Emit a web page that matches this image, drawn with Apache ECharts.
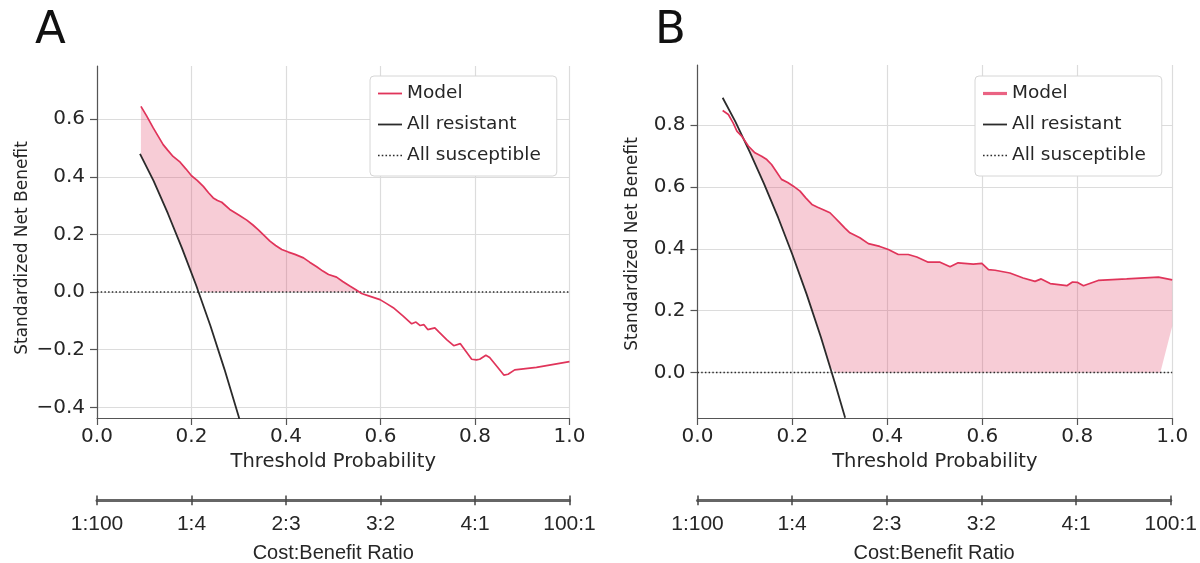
<!DOCTYPE html>
<html><head><meta charset="utf-8">
<script src="https://cdn.jsdelivr.net/npm/echarts@6/dist/echarts.min.js"></script>
<style>html,body{margin:0;padding:0;background:#fff}#c{width:1200px;height:563px}</style>
</head><body><div id="c"></div>
<script>
const panelTitles = ['A', 'B'];
const seriesNames = ['Model', 'All resistant', 'All susceptible'];
const xTitle = 'Threshold Probability';
const yTitle = 'Standardized Net Benefit';
const costTitle = 'Cost:Benefit Ratio';
const costLabels = ['1:100', '1:4', '2:3', '3:2', '4:1', '100:1'];
const costTickPositions = [0, 0.2, 0.4, 0.6, 0.8, 1.0];
const yTicksA = [-0.4, -0.2, 0, 0.2, 0.4, 0.6];
const yTicksB = [0, 0.2, 0.4, 0.6, 0.8];

const modelA = [[0.093,0.645],[0.105,0.612],[0.119,0.570],[0.130,0.540],[0.140,0.512],[0.150,0.492],[0.161,0.471],[0.176,0.451],[0.188,0.428],[0.200,0.404],[0.212,0.388],[0.225,0.367],[0.236,0.345],[0.246,0.327],[0.255,0.318],[0.264,0.312],[0.281,0.287],[0.300,0.268],[0.317,0.250],[0.330,0.233],[0.341,0.217],[0.353,0.198],[0.366,0.177],[0.378,0.162],[0.391,0.148],[0.405,0.139],[0.419,0.131],[0.437,0.119],[0.450,0.104],[0.465,0.088],[0.478,0.073],[0.490,0.061],[0.507,0.052],[0.520,0.037],[0.535,0.021],[0.548,0.008],[0.560,-0.005],[0.575,-0.013],[0.599,-0.026],[0.613,-0.040],[0.627,-0.054],[0.648,-0.083],[0.666,-0.110],[0.675,-0.104],[0.684,-0.116],[0.692,-0.113],[0.700,-0.130],[0.715,-0.124],[0.724,-0.139],[0.740,-0.165],[0.755,-0.186],[0.769,-0.179],[0.781,-0.206],[0.793,-0.233],[0.803,-0.235],[0.810,-0.233],[0.823,-0.219],[0.831,-0.227],[0.847,-0.259],[0.861,-0.288],[0.870,-0.285],[0.884,-0.270],[0.930,-0.261],[1.0,-0.241]];
const resistantA = [[0.091,0.480],[0.12,0.385],[0.15,0.273],[0.18,0.152],[0.21,0.023],[0.24,-0.117],[0.27,-0.269],[0.30,-0.433],[0.302,-0.445]];
const susceptibleA = [[0,0],[1,0]];

const modelB = [[0.053,0.848],[0.065,0.835],[0.075,0.808],[0.083,0.781],[0.093,0.765],[0.107,0.733],[0.121,0.711],[0.135,0.700],[0.146,0.689],[0.156,0.673],[0.167,0.648],[0.177,0.625],[0.190,0.615],[0.202,0.603],[0.216,0.587],[0.228,0.565],[0.241,0.544],[0.253,0.535],[0.265,0.527],[0.279,0.517],[0.290,0.500],[0.300,0.484],[0.310,0.468],[0.321,0.452],[0.342,0.436],[0.360,0.417],[0.384,0.408],[0.402,0.398],[0.423,0.382],[0.444,0.382],[0.462,0.374],[0.486,0.357],[0.511,0.357],[0.532,0.342],[0.549,0.355],[0.581,0.351],[0.599,0.353],[0.613,0.333],[0.627,0.331],[0.658,0.322],[0.686,0.306],[0.711,0.295],[0.724,0.303],[0.743,0.288],[0.778,0.281],[0.790,0.293],[0.800,0.292],[0.813,0.281],[0.844,0.298],[0.904,0.303],[0.971,0.309],[1.0,0.300]];
const resistantB = [[0.053,0.889],[0.08,0.811],[0.11,0.714],[0.14,0.611],[0.17,0.501],[0.20,0.381],[0.23,0.253],[0.26,0.114],[0.29,-0.036],[0.311,-0.146]];
const susceptibleB = [[0,0],[1,0]];
const fillEdgeB = [[0.975,0],[1.0,0.15]];

const RED = '#e0345a';
const DARK = '#2b2b2b';
const FONT = 'DejaVu Sans';
const TXT = '#262626';

function interp(arr, x) {
  if (!arr || !arr.length) return null;
  if (x < arr[0][0] - 1e-9 || x > arr[arr.length - 1][0] + 1e-9) return null;
  for (let i = 1; i < arr.length; i++) {
    if (x <= arr[i][0] + 1e-12) {
      const x0 = arr[i-1][0], y0 = arr[i-1][1], x1 = arr[i][0], y1 = arr[i][1];
      return x1 === x0 ? y1 : y0 + (y1 - y0) * (x - x0) / (x1 - x0);
    }
  }
  return arr[arr.length - 1][1];
}
function lowerAt(x, lowers) {
  let l = -Infinity;
  lowers.forEach(a => { const v = interp(a, x); if (v !== null && v > l) l = v; });
  return l;
}
function fillSeries(model, lowers, idx) {
  return {
    type: 'custom', xAxisIndex: idx, yAxisIndex: idx, clip: true, silent: true, z: 1,
    data: [[0, 0]],
    renderItem: function (params, api) {
      const m0 = model[0][0], m1 = model[model.length - 1][0];
      let xs = model.map(p => p[0]);
      lowers.forEach(a => a.forEach(p => { if (p[0] >= m0 && p[0] <= m1) xs.push(p[0]); }));
      xs = Array.from(new Set(xs)).sort((a, b) => a - b);
      const pts = xs.map(x => ({ x: x, u: interp(model, x), l: lowerAt(x, lowers) }));
      const out = [];
      for (let i = 0; i < pts.length; i++) {
        out.push(pts[i]);
        if (i < pts.length - 1) {
          const f1 = pts[i].u - pts[i].l, f2 = pts[i+1].u - pts[i+1].l;
          if (f1 * f2 < 0) {
            const xc = pts[i].x + (pts[i+1].x - pts[i].x) * f1 / (f1 - f2);
            out.push({ x: xc, u: interp(model, xc), l: lowerAt(xc, lowers) });
          }
        }
      }
      const top = out.map(p => api.coord([p.x, Math.max(p.u, p.l)]));
      const bot = out.map(p => api.coord([p.x, p.l])).reverse();
      return { type: 'polygon', shape: { points: top.concat(bot) }, style: { fill: 'rgba(224,52,90,0.25)', stroke: null } };
    }
  };
}
function yFmt(v) {
  if (Math.abs(v * 5 - Math.round(v * 5)) > 1e-6) return '';
  return v.toFixed(1).replace('-', '\u2212');
}
function costFmt(v) {
  const i = costTickPositions.findIndex(p => Math.abs(p - v) < 1e-6);
  return i >= 0 ? costLabels[i] : '';
}

const grids = [
  { left: 97, top: 66, width: 472.5, height: 352 },
  { left: 697.5, top: 65, width: 474.7, height: 353 },
  { left: 97, top: 500, width: 472.5, height: 1 },
  { left: 697.5, top: 500, width: 474.7, height: 1 }
];
function mainX(g) {
  return {
    gridIndex: g, type: 'value', min: 0, max: 1, interval: 0.2,
    axisLine: { show: true, onZero: false, lineStyle: { color: '#555', width: 1.2 } },
    axisTick: { show: true, length: 7, lineStyle: { color: '#555', width: 1.2 } },
    axisLabel: { formatter: v => v.toFixed(1), fontSize: 20, fontFamily: FONT, color: TXT, margin: 9 },
    splitLine: { show: true, lineStyle: { color: '#dcdcdc', width: 1.2 } },
    name: xTitle, nameLocation: 'middle', nameGap: 32,
    nameTextStyle: { fontSize: 19.5, fontFamily: FONT, color: TXT }
  };
}
function costX(g) {
  return {
    gridIndex: g, type: 'value', min: 0, max: 1, interval: 0.2, position: 'bottom',
    axisLine: { show: true, onZero: false, lineStyle: { color: '#666', width: 3 } },
    axisTick: { show: true, length: 5, lineStyle: { color: '#444', width: 1.5 } },
    axisLabel: { formatter: costFmt, fontSize: 21, fontFamily: 'Liberation Sans', color: TXT, margin: 13 },
    splitLine: { show: false },
    name: costTitle, nameLocation: 'middle', nameGap: 43,
    nameTextStyle: { fontSize: 20, fontFamily: 'Liberation Sans', color: TXT }
  };
}
function costXTop(g) {
  return {
    gridIndex: g, type: 'value', min: 0, max: 1, interval: 0.2, position: 'top',
    axisLine: { show: false, onZero: false },
    axisTick: { show: true, length: 4.5, lineStyle: { color: '#444', width: 1.5 } },
    axisLabel: { show: false }, splitLine: { show: false }
  };
}
function mainY(g, min, max, ticks) {
  return {
    gridIndex: g, type: 'value', min: min, max: max,
    axisLine: { show: true, onZero: false, lineStyle: { color: '#555', width: 1.2 } },
    axisTick: { show: true, length: 7, customValues: ticks, lineStyle: { color: '#555', width: 1.2 } },
    axisLabel: { customValues: ticks, formatter: yFmt, fontSize: 20, fontFamily: FONT, color: TXT, margin: 12 },
    splitLine: { show: true, lineStyle: { color: '#dcdcdc', width: 1.2 } }
  };
}
function lineSeries(name, data, idx, color, width, type) {
  return {
    name: name, type: 'line', xAxisIndex: idx, yAxisIndex: idx, data: data,
    symbol: 'none', showSymbol: false, z: 3, clip: true,
    lineStyle: { color: color, width: width, type: type || 'solid' },
    itemStyle: { color: color }
  };
}
const ICON_SOLID = 'path://M0,0h24v1.8h-24z';
const ICON_THICK = 'path://M0,0h24v3.2h-24z';
const ICON_DOT = 'path://M0,0h1.6v1.6h-1.6z M3.73,0h1.6v1.6h-1.6z M7.47,0h1.6v1.6h-1.6z M11.2,0h1.6v1.6h-1.6z M14.93,0h1.6v1.6h-1.6z M18.67,0h1.6v1.6h-1.6z M22.4,0h1.6v1.6h-1.6z';
const legendCommon = {
  orient: 'vertical', symbolKeepAspect: true,
  backgroundColor: '#fff', borderColor: '#d6d6d6', borderWidth: 1, borderRadius: 4,
  padding: [8, 16, 11, 8], itemGap: 12, itemWidth: 24, itemHeight: 14,
  textStyle: { fontSize: 18.5, fontFamily: FONT, color: TXT },
  selectedMode: false
};

const option = {
  animation: false,
  backgroundColor: '#fff',
  grid: grids,
  xAxis: [mainX(0), mainX(1), costX(2), costX(3), costXTop(2), costXTop(3)],
  yAxis: [
    mainY(0, -0.437, 0.785, yTicksA),
    mainY(1, -0.147, 0.995, yTicksB),
    { gridIndex: 2, type: 'value', show: false, min: 0, max: 1 },
    { gridIndex: 3, type: 'value', show: false, min: 0, max: 1 }
  ],
  legend: [
    Object.assign({}, legendCommon, { left: 370, top: 76, data: [
      { name: seriesNames[0], icon: ICON_SOLID },
      { name: seriesNames[1], icon: ICON_SOLID },
      { name: seriesNames[2], icon: ICON_DOT }
    ] }),
    Object.assign({}, legendCommon, { left: 975, top: 76, data: [
      { name: seriesNames[0], icon: ICON_THICK, itemStyle: { color: '#ea6383' } },
      { name: seriesNames[1], icon: ICON_SOLID },
      { name: seriesNames[2], icon: ICON_DOT }
    ] })
  ],
  graphic: [
    { type: 'text', x: 35, y: 31, style: { text: panelTitles[0], font: '45px "DejaVu Sans"', fill: '#111', textAlign: 'left', textVerticalAlign: 'middle' } },
    { type: 'text', x: 655, y: 31, style: { text: panelTitles[1], font: '45px "DejaVu Sans"', fill: '#111', textAlign: 'left', textVerticalAlign: 'middle' } },
    { type: 'text', x: 23, y: 248, rotation: Math.PI / 2, style: { text: yTitle, font: '17px "DejaVu Sans"', fill: TXT, textAlign: 'center', textVerticalAlign: 'middle' } },
    { type: 'text', x: 633, y: 244, rotation: Math.PI / 2, style: { text: yTitle, font: '17px "DejaVu Sans"', fill: TXT, textAlign: 'center', textVerticalAlign: 'middle' } }
  ],
  series: [
    fillSeries(modelA, [resistantA, susceptibleA], 0),
    lineSeries(seriesNames[1], resistantA, 0, DARK, 1.8),
    lineSeries(seriesNames[2], susceptibleA, 0, DARK, 1.5, [1.5, 2.2]),
    lineSeries(seriesNames[0], modelA, 0, RED, 1.7),
    fillSeries(modelB, [resistantB, susceptibleB, fillEdgeB], 1),
    lineSeries(seriesNames[1], resistantB, 1, DARK, 1.8),
    lineSeries(seriesNames[2], susceptibleB, 1, DARK, 1.5, [1.5, 2.2]),
    lineSeries(seriesNames[0], modelB, 1, RED, 1.7)
  ]
};
const chart = echarts.init(document.getElementById('c'), null, { renderer: 'canvas' });
chart.setOption(option);
</script>
</body></html>
